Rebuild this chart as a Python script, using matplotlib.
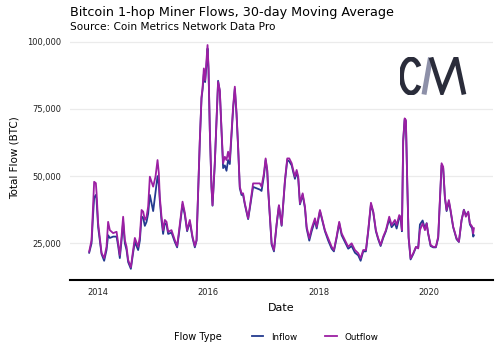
import datetime as dt
import matplotlib
matplotlib.use("Agg")
import matplotlib.pyplot as plt
import matplotlib.dates as mdates
import matplotlib.ticker as ticker
from matplotlib.patches import Arc

# Dates as fractional years, flows in thousands of BTC
years = [2013.837, 2013.880, 2013.909, 2013.927, 2013.958, 2013.971, 2014.000, 2014.062, 2014.109, 2014.152,
         2014.181, 2014.212, 2014.272, 2014.334, 2014.363, 2014.393, 2014.424, 2014.453, 2014.484, 2014.515,
         2014.544, 2014.593, 2014.634, 2014.665, 2014.725, 2014.756, 2014.787, 2014.816, 2014.846, 2014.877,
         2014.906, 2014.937, 2014.997, 2015.040, 2015.077, 2015.100, 2015.118, 2015.149, 2015.178, 2015.209,
         2015.240, 2015.269, 2015.330, 2015.390, 2015.432, 2015.468, 2015.530, 2015.572, 2015.613, 2015.662,
         2015.711, 2015.753, 2015.784, 2015.813, 2015.843, 2015.874, 2015.892, 2015.916, 2015.939, 2015.965,
         2015.983, 2016.001, 2016.025, 2016.055, 2016.074, 2016.115, 2016.146, 2016.175, 2016.206, 2016.237,
         2016.266, 2016.297, 2016.327, 2016.356, 2016.387, 2016.418, 2016.447, 2016.478, 2016.509, 2016.538,
         2016.568, 2016.599, 2016.628, 2016.659, 2016.719, 2016.750, 2016.809, 2016.871, 2016.931, 2016.962,
         2017.003, 2017.034, 2017.063, 2017.081, 2017.112, 2017.143, 2017.185, 2017.234, 2017.275, 2017.324,
         2017.384, 2017.426, 2017.462, 2017.506, 2017.534, 2017.565, 2017.596, 2017.625, 2017.656, 2017.705,
         2017.747, 2017.777, 2017.825, 2017.868, 2017.928, 2017.959, 2018.019, 2018.049, 2018.109, 2018.169,
         2018.231, 2018.272, 2018.321, 2018.368, 2018.412, 2018.472, 2018.531, 2018.593, 2018.653, 2018.713,
         2018.756, 2018.803, 2018.852, 2018.894, 2018.943, 2018.985, 2019.033, 2019.075, 2019.119, 2019.166,
         2019.215, 2019.275, 2019.318, 2019.378, 2019.409, 2019.456, 2019.481, 2019.505, 2019.528, 2019.554,
         2019.577, 2019.601, 2019.626, 2019.662, 2019.710, 2019.759, 2019.800, 2019.831, 2019.880, 2019.922,
         2019.953, 2019.981, 2020.025, 2020.072, 2020.121, 2020.163, 2020.193, 2020.224, 2020.253, 2020.284,
         2020.315, 2020.356, 2020.387, 2020.434, 2020.496, 2020.538, 2020.586, 2020.628, 2020.664, 2020.707,
         2020.737, 2020.779, 2020.797, 2020.810]

outflow = [21.9, 26.2, 40.0, 47.9, 47.4, 43.7, 32.5, 21.4, 19.5, 23.7,
           33.0, 29.9, 28.8, 29.3, 25.1, 20.6, 27.5, 34.9, 26.2, 23.7,
           18.8, 16.1, 22.5, 27.0, 23.7, 27.5, 37.4, 36.8, 33.7, 34.9,
           38.6, 49.8, 46.1, 49.8, 56.0, 51.2, 42.3, 34.9, 29.9, 33.7,
           33.0, 29.3, 29.9, 26.2, 24.0, 29.9, 40.5, 36.3, 29.9, 33.7,
           27.5, 24.0, 26.2, 44.8, 63.4, 79.5, 82.7, 90.1, 85.7, 93.2,
           98.8, 90.7, 67.1, 46.1, 39.2, 54.8, 70.9, 85.1, 82.0, 67.1,
           54.8, 57.2, 56.0, 59.1, 56.0, 65.9, 75.8, 83.3, 73.4, 60.9,
           46.1, 43.6, 43.6, 39.9, 34.3, 38.6, 47.3, 47.3, 47.3, 46.1,
           51.0, 56.6, 52.3, 44.8, 34.9, 25.0, 22.5, 32.4, 39.2, 31.8,
           48.5, 56.6, 56.6, 54.8, 52.3, 49.8, 52.3, 49.8, 39.9, 43.6,
           38.6, 31.2, 26.9, 30.6, 34.3, 31.2, 37.4, 34.9, 29.9, 26.9,
           23.7, 22.5, 27.5, 33.0, 28.7, 26.2, 23.7, 25.0, 22.5, 21.3,
           19.4, 22.5, 22.5, 29.9, 40.1, 36.8, 29.9, 26.9, 24.4, 27.5,
           29.9, 34.9, 31.8, 33.7, 31.8, 35.5, 34.9, 29.9, 63.4, 71.5,
           70.9, 48.5, 27.5, 19.4, 21.3, 23.7, 23.1, 29.9, 32.4, 29.9,
           32.4, 28.7, 24.4, 23.7, 23.7, 27.5, 41.1, 54.8, 53.5, 42.3,
           37.4, 41.1, 37.4, 31.2, 26.9, 25.6, 33.7, 37.4, 34.9, 36.8,
           32.4, 31.2, 28.7, 30.6]

inflow = [21.5, 25.0, 36.0, 42.0, 43.0, 41.0, 31.0, 21.0, 18.5, 22.5,
          28.0, 27.0, 27.5, 27.5, 24.0, 19.5, 26.0, 33.0, 25.0, 22.5,
          18.0, 15.5, 21.5, 25.5, 22.5, 26.0, 35.0, 34.5, 31.5, 33.0,
          36.0, 43.0, 37.0, 44.0, 50.0, 47.0, 41.0, 33.5, 28.5, 32.5,
          32.0, 28.5, 29.0, 25.5, 23.5, 29.0, 39.5, 35.5, 29.5, 33.0,
          27.0, 23.5, 26.0, 44.0, 63.0, 79.0, 82.0, 88.0, 85.0, 91.5,
          97.5, 90.0, 67.0, 46.0, 39.0, 54.5, 70.5, 85.5, 81.5, 66.5,
          53.0, 54.0, 52.0, 56.0, 54.5, 65.0, 75.0, 82.5, 73.0, 60.5,
          45.5, 43.0, 43.0, 39.5, 34.0, 38.0, 46.0, 45.5, 45.0, 44.5,
          50.0, 56.0, 52.0, 44.5, 34.5, 24.5, 22.0, 32.0, 39.0, 31.5,
          48.0, 56.0, 55.5, 54.0, 51.5, 49.0, 51.5, 49.0, 39.5, 43.0,
          38.0, 30.5, 26.0, 29.5, 33.5, 30.5, 37.0, 34.5, 29.5, 26.0,
          23.0, 22.0, 27.0, 32.5, 28.0, 25.5, 23.0, 24.0, 21.5, 20.5,
          18.5, 22.0, 22.0, 29.5, 39.5, 36.5, 29.5, 26.5, 24.0, 27.0,
          29.5, 34.0, 31.0, 32.5, 30.5, 34.5, 34.5, 29.5, 63.0, 71.0,
          70.5, 48.0, 27.0, 19.0, 21.0, 23.5, 23.5, 32.0, 33.5, 30.5,
          32.5, 28.5, 24.0, 23.5, 23.5, 27.0, 40.5, 54.0, 53.0, 42.0,
          37.0, 40.5, 37.0, 31.0, 26.5, 25.5, 33.5, 37.5, 35.5, 36.5,
          32.0, 30.5, 27.5, 28.0]

year_ticks = [2014, 2016, 2018, 2020]
flow_ticks = [25000, 50000, 75000, 100000]


def to_date(y):
    yr = int(y)
    return dt.datetime(yr, 1, 1) + dt.timedelta(days=(y - yr) * 365.25)


dates = [to_date(y) for y in years]

fig = plt.figure(figsize=(4.99, 3.57), dpi=100)
ax = fig.add_axes([0.140, 0.2157, 0.848, 0.683])

ax.plot(dates, [v * 1000 for v in inflow], color='#233a8f', lw=1.3, label='Inflow')
ax.plot(dates, [v * 1000 for v in outflow], color='#9c1fa3', lw=1.3, label='Outflow')

ax.set_xlim(to_date(2013.487), to_date(2021.154))
ax.set_ylim(11350, 102100)
ax.set_xticks([dt.datetime(y, 1, 1) for y in year_ticks])
ax.xaxis.set_major_formatter(mdates.DateFormatter('%Y'))
ax.set_yticks(flow_ticks)
ax.yaxis.set_major_formatter(ticker.StrMethodFormatter('{x:,.0f}'))

ax.grid(axis='y', color='#ebebeb', lw=0.9)
ax.set_axisbelow(True)
for s in ['top', 'right', 'left']:
    ax.spines[s].set_visible(False)
ax.spines['bottom'].set_linewidth(1.5)
ax.tick_params(length=0, labelsize=6, labelcolor='#222222', pad=6)

ax.set_xlabel('Date', fontsize=8, labelpad=4)
ax.set_ylabel('Total Flow (BTC)', fontsize=7.5, labelpad=6)

fig.text(0.140, 0.955, 'Bitcoin 1-hop Miner Flows, 30-day Moving Average', fontsize=9.2,
         ha='left', va='baseline')
fig.text(0.140, 0.915, 'Source: Coin Metrics Network Data Pro', fontsize=7.6, ha='left', va='baseline')

# Legend with inline title
fig.text(198 / 499, 1 - 337 / 357, 'Flow Type', fontsize=7, ha='center', va='center')
fig.legend(loc='center left', bbox_to_anchor=(244 / 499, 1 - 337 / 357), ncol=2, frameon=False,
           fontsize=6.3, handlelength=1.3, columnspacing=3.2, handletextpad=0.9)

# CM logo
lax = fig.add_axes([400 / 499, 1 - 95 / 357, 68 / 499, 38 / 357])
lax.set_xlim(0, 68)
lax.set_ylim(0, 38)
lax.axis('off')
lax.add_patch(Arc((11, 19), 19, 34, theta1=50, theta2=310, lw=3.6, color='#2a2c3a'))
lax.plot([24, 30.5], [0.5, 37.5], color='#8d90a8', lw=3.6, solid_capstyle='butt')
lax.plot([31, 42, 56, 64], [37.5, 3, 37.5, 0.5], color='#2a2c3a', lw=3.4, solid_joinstyle='miter',
         solid_capstyle='butt')

fig.savefig('out.png', dpi=100)
